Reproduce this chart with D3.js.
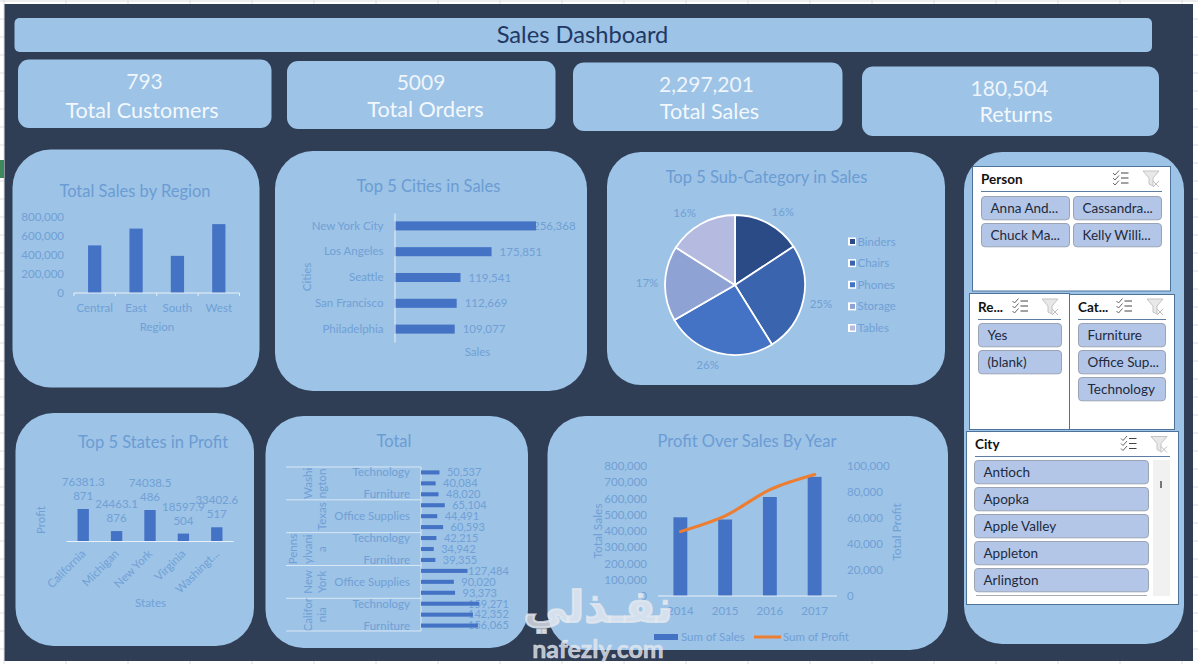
<!DOCTYPE html>
<html>
<head>
<meta charset="utf-8">
<script src="https://cdnjs.cloudflare.com/ajax/libs/d3/7.8.5/d3.min.js"></script>
<style>
    html, body { margin: 0; padding: 0; background: #fff; overflow: hidden; }
    svg { display: block; }
    text { font-family: Lato, "Open Sans", sans-serif; }
    .axis path, .axis line { stroke: #e8f0f9; }
    .axis text { fill: #70a0d6; font-size: 11.5px; }
    .muted { fill: #70a0d6; font-size: 11.5px; }
    .small { font-size: 11px; }
    .wide { font-size: 12px; }
    .title { fill: #6b9cd4; font-size: 16.5px; text-anchor: middle; }
</style>
</head>
<body>
<div id="dashboard"></div>
<script>
// chart values
const regions = ['Central', 'East', 'South', 'West'];
const regionSales = [501000, 678000, 391000, 725000];

const cities = ['New York City', 'Los Angeles', 'Seattle', 'San Francisco', 'Philadelphia'];
const citySales = [256368, 175851, 119541, 112669, 109077];

const subCategories = ['Binders', 'Chairs', 'Phones', 'Storage', 'Tables'];
const subCategorySales = [203413, 328449, 330007, 223844, 206966];

const states = ['California', 'Michigan', 'New York', 'Virginia', 'Washingt...'];
const stateProfit = [76381.3871, 24463.1876, 74038.5486, 18597.9504, 33402.6517];

const totalRows = ['Washington Technology', 'Washington Office Supplies', 'Washington Furniture',
    'Texas Technology', 'Texas Office Supplies', 'Texas Furniture',
    'Pennsylvania Technology', 'Pennsylvania Office Supplies', 'Pennsylvania Furniture',
    'New York Technology', 'New York Office Supplies', 'New York Furniture',
    'California Technology', 'California Office Supplies', 'California Furniture'];
const totalValues = [50537, 40084, 48020, 65104, 44491, 60593, 42215, 34942, 39355,
    127484, 90020, 93373, 159271, 142352, 156065];
const totalStateLines = [['Washi', 'ngton'], ['Texas'], ['Penns', 'ylvani', 'a'], ['New', 'York'], ['Califor', 'nia']];
const totalCategoryLabels = ['Technology', '', 'Furniture', '', 'Office Supplies', ''];

const years = ['2014', '2015', '2016', '2017'];
const yearSales = [484247, 470533, 609206, 733215];
const yearProfit = [49544, 61619, 81795, 93439];

const kpiValues = ['793', '5009', '2,297,201', '180,504'];
const kpiNames = ['Total Customers', 'Total Orders', 'Total Sales', 'Returns'];

const persons = ['Anna And...', 'Cassandra...', 'Chuck Ma...', 'Kelly Willi...'];
const returned = ['Yes', '(blank)'];
const categories = ['Furniture', 'Office Sup...', 'Technology'];
const cityNames = ['Antioch', 'Apopka', 'Apple Valley', 'Appleton', 'Arlington'];

const PANEL = '#9dc3e6';
const DARK = '#2f3d55';
const BAR = '#4472c4';
const pieColors = ['#2a4b86', '#3a64ae', '#4472c4', '#8fa2d4', '#b5bbe0'];

const svg = d3.select('#dashboard').append('svg')
    .attr('width', 1198)
    .attr('height', 664);

function rect(parent, x0, y0, x1, y1, r, fill) {
    return parent.append('rect')
        .attr('x', x0).attr('y', y0)
        .attr('width', x1 - x0).attr('height', y1 - y0)
        .attr('rx', r).attr('ry', r)
        .attr('fill', fill);
}

function label(parent, x, y, str, cls, anchor) {
    return parent.append('text')
        .attr('class', cls || 'muted')
        .attr('x', x).attr('y', y)
        .attr('dy', '0.35em')
        .attr('text-anchor', anchor || 'middle')
        .text(str);
}

function rotatedLabel(parent, x, y, str, cls) {
    return parent.append('text')
        .attr('class', cls || 'muted')
        .attr('transform', `translate(${x},${y}) rotate(-90)`)
        .attr('dy', '0.35em')
        .attr('text-anchor', 'middle')
        .text(str);
}

function drawBackground() {
    // worksheet grid showing around the dashboard
    d3.range(0, 664, 18).forEach(y => {
        svg.append('line').attr('x1', 0).attr('x2', 1198).attr('y1', y + 1).attr('y2', y + 1)
            .attr('stroke', '#dcdcdc');
    });
    d3.range(4, 1198, 62).forEach(x => {
        svg.append('line').attr('x1', x).attr('x2', x).attr('y1', 0).attr('y2', 664)
            .attr('stroke', '#dcdcdc');
    });
    rect(svg, 0, 160, 4, 178, 0, '#3d8a5f');
    rect(svg, 4.5, 4, 1193, 661, 0, DARK);

    rect(svg, 14.5, 18, 1152, 52, 5, PANEL);
    svg.append('text')
        .attr('x', 582.5).attr('y', 35).attr('dy', '0.35em')
        .attr('text-anchor', 'middle')
        .style('font-size', '23.7px')
        .style('fill', '#1f3864')
        .text('Sales Dashboard');

    rect(svg, 12.5, 149.5, 259.5, 387.5, 38, PANEL);
    rect(svg, 275, 151, 587, 391, 38, PANEL);
    rect(svg, 607, 152, 945, 385, 34, PANEL);
    rect(svg, 15.5, 413, 254, 646, 38, PANEL);
    rect(svg, 265.5, 416, 528, 648, 38, PANEL);
    rect(svg, 547.5, 416, 948, 650, 38, PANEL);
    rect(svg, 964, 152, 1184, 644, 38, PANEL);
}

function drawKpis() {
    const cards = [[18, 59.5, 271.5, 128], [287, 61, 555.5, 129], [573, 62.5, 842.5, 131], [862, 66.5, 1159, 136]];
    const valuePos = [[144.5, 82], [421, 83], [706.5, 85], [1009.5, 89]];
    const namePos = [[142, 110], [425.5, 109], [709.5, 111], [1016, 114]];
    cards.forEach((c, i) => {
        rect(svg, c[0], c[1], c[2], c[3], 11, PANEL);
        svg.append('text')
            .attr('x', valuePos[i][0]).attr('y', valuePos[i][1]).attr('dy', '0.35em')
            .attr('text-anchor', 'middle')
            .style('font-size', '21px').style('fill', '#eef5fc')
            .text(kpiValues[i]);
        svg.append('text')
            .attr('x', namePos[i][0]).attr('y', namePos[i][1]).attr('dy', '0.35em')
            .attr('text-anchor', 'middle')
            .style('font-size', '21.6px').style('fill', '#f3f8fd')
            .text(kpiNames[i]);
    });
}

function drawRegionChart() {
    const x = d3.scaleBand().domain(regions).range([74, 239.5]).paddingInner(0.68).paddingOuter(0.34);
    const y = d3.scaleLinear().domain([0, 800000]).range([293, 217]);
    const g = svg.append('g');

    label(g, 135, 191.5, 'Total Sales by Region', 'title');

    g.append('g').attr('class', 'axis')
        .attr('transform', 'translate(68,0)')
        .call(d3.axisLeft(y).ticks(4).tickSize(0).tickPadding(4).tickFormat(d3.format(',')))
        .call(a => a.select('.domain').remove());

    g.selectAll('rect.bar').data(regions).enter().append('rect')
        .attr('class', 'bar')
        .attr('x', d => x(d))
        .attr('width', x.bandwidth())
        .attr('y', (d, i) => y(regionSales[i]))
        .attr('height', (d, i) => 293 - y(regionSales[i]))
        .attr('fill', BAR);

    const axis = d3.scaleBand().domain(regions).range([74, 239.5]);
    g.append('path').attr('d', 'M74,293H239.5').attr('stroke', '#e8f0f9');
    d3.range(0, 5).forEach(i => {
        const tx = 74 + i * axis.step();
        g.append('line').attr('x1', tx).attr('x2', tx).attr('y1', 293).attr('y2', 296).attr('stroke', '#e8f0f9');
    });
    regions.forEach(r => label(g, axis(r) + axis.bandwidth() / 2, 308, r));
    label(g, 157, 327, 'Region');
}

function drawCitiesChart() {
    const y = d3.scaleBand().domain(cities).range([213, 342]).paddingInner(0.65).paddingOuter(0.325);
    const x = d3.scaleLinear().domain([0, 256368]).range([394.5, 536]);
    const g = svg.append('g');

    label(g, 428.5, 186.5, 'Top 5 Cities in Sales', 'title');

    // value labels go under the bars, the longest one runs into its bar
    g.selectAll('text.value').data(cities).enter().append('text')
        .attr('class', 'value muted')
        .attr('x', (d, i) => Math.min(x(citySales[i]) + 8, 533))
        .attr('y', d => y(d) + y.bandwidth() / 2)
        .attr('dy', '0.35em')
        .text((d, i) => d3.format(',')(citySales[i]));

    g.selectAll('rect.bar').data(cities).enter().append('rect')
        .attr('class', 'bar')
        .attr('x', x(0))
        .attr('y', d => y(d))
        .attr('width', (d, i) => x(citySales[i]) - x(0))
        .attr('height', y.bandwidth())
        .attr('fill', BAR);

    g.append('g').attr('class', 'axis')
        .attr('transform', 'translate(394.5,0)')
        .call(d3.axisLeft(y).tickSize(0).tickPadding(11));

    rotatedLabel(g, 307, 277, 'Cities');
    label(g, 477.5, 352, 'Sales');
}

function drawPieChart() {
    const cx = 735, cy = 285, radius = 70;
    const pie = d3.pie().value(d => d).sort(null);
    const arc = d3.arc().innerRadius(0).outerRadius(radius);
    const labelArc = d3.arc().innerRadius(88).outerRadius(88);
    // Excel nudges the outside labels a little off the slice middle
    const nudge = [[6, 4], [0, 0], [-6, -5], [0, 0], [-8, 5]];
    const total = d3.sum(subCategorySales);
    const g = svg.append('g');

    label(g, 766.5, 177, 'Top 5 Sub-Category in Sales', 'title');

    const slices = g.append('g').attr('transform', `translate(${cx},${cy})`);
    slices.selectAll('path').data(pie(subCategorySales)).enter().append('path')
        .attr('d', arc)
        .attr('fill', (d, i) => pieColors[i])
        .attr('stroke', 'white')
        .style('stroke-width', 1.8);

    slices.selectAll('text').data(pie(subCategorySales)).enter().append('text')
        .attr('class', 'muted')
        .attr('transform', (d, i) => {
            const pos = labelArc.centroid(d);
            return `translate(${pos[0] + nudge[i][0]},${pos[1] + nudge[i][1]})`;
        })
        .attr('dy', '0.35em')
        .attr('text-anchor', 'middle')
        .text(d => d3.format('.0%')(d.value / total));

    const legendY = d3.scalePoint().domain(subCategories).range([241.5, 328]);
    subCategories.forEach((name, i) => {
        const ly = legendY(name);
        rect(g, 848, ly - 4, 856, ly + 4, 0, 'white');
        rect(g, 850, ly - 2.5, 855, ly + 2.5, 0, pieColors[i]);
        label(g, 857.5, ly, name, 'muted', 'start');
    });
}

function drawStatesChart() {
    const x = d3.scaleBand().domain(states).range([66.5, 233.5]).paddingInner(0.66).paddingOuter(0.33);
    const y = d3.scaleLinear().domain([0, 76381.3871]).range([541.5, 509]);
    const g = svg.append('g');

    label(g, 153, 442, 'Top 5 States in Profit', 'title');

    g.selectAll('rect.bar').data(states).enter().append('rect')
        .attr('class', 'bar')
        .attr('x', d => x(d))
        .attr('width', x.bandwidth())
        .attr('y', (d, i) => y(stateProfit[i]))
        .attr('height', (d, i) => y(0) - y(stateProfit[i]))
        .attr('fill', BAR);

    g.append('path').attr('d', `M66.5,${y(0)}H233.5`).attr('stroke', '#e8f0f9');

    states.forEach((s, i) => {
        const cx = x(s) + x.bandwidth() / 2;
        const top = y(stateProfit[i]);
        const text = String(stateProfit[i]);
        // the value wraps after seven characters like the Excel label does
        label(g, cx, top - 27, text.slice(0, 7));
        label(g, cx, top - 13, text.slice(7));
        g.append('text')
            .attr('class', 'muted')
            .attr('transform', `translate(${cx + 3},${y(0) + 13}) rotate(-45)`)
            .attr('text-anchor', 'end')
            .text(s);
    });

    rotatedLabel(g, 41, 520, 'Profit');
    label(g, 150.5, 603, 'States');
}

function drawTotalChart() {
    const y = d3.scaleBand().domain(totalRows).range([467, 631]).paddingInner(0.63).paddingOuter(0.31);
    const x = d3.scaleLinear().domain([0, 127484]).range([421, 467.5]);
    const g = svg.append('g');
    const rowH = y.step();
    const top = y.range()[0];

    label(g, 394, 441.5, 'Total', 'title');

    totalStateLines.forEach((lines, s) => {
        const lineY = top + s * 3 * rowH;
        g.append('line').attr('x1', 286).attr('x2', 421).attr('y1', lineY).attr('y2', lineY).attr('stroke', '#dbe8f5');
        lines.forEach((line, k) => {
            const lx = 322 - (lines.length - 1 - k) * 14.5;
            rotatedLabel(g, lx, lineY + 1.5 * rowH, line);
        });
        totalCategoryLabels.slice((s % 2) * 3, (s % 2) * 3 + 3).forEach((c, k) => {
            if (c) label(g, 410, lineY + (k + 0.5) * rowH, c, 'muted', 'end');
        });
    });
    g.append('line').attr('x1', 286).attr('x2', 421).attr('y1', 631).attr('y2', 631).attr('stroke', '#dbe8f5');
    g.append('line').attr('x1', 421).attr('x2', 421).attr('y1', 467).attr('y2', 631).attr('stroke', '#dbe8f5');

    g.selectAll('text.value').data(totalRows).enter().append('text')
        .attr('class', 'value muted small')
        .attr('x', (d, i) => Math.min(x(totalValues[i]) + 7.5, 468))
        .attr('y', d => y(d) + y.bandwidth() / 2)
        .attr('dy', '0.35em')
        .text((d, i) => d3.format(',')(totalValues[i]));

    g.selectAll('rect.bar').data(totalRows).enter().append('rect')
        .attr('class', 'bar')
        .attr('x', x(0))
        .attr('y', d => y(d))
        .attr('width', (d, i) => x(totalValues[i]) - x(0))
        .attr('height', y.bandwidth())
        .attr('fill', BAR);
}

function drawProfitChart() {
    const x = d3.scaleBand().domain(years).range([658, 837]).paddingInner(0.69).paddingOuter(0.345);
    const ySales = d3.scaleLinear().domain([0, 800000]).range([596, 466]);
    const yProfit = d3.scaleLinear().domain([0, 100000]).range([596, 466]);
    const g = svg.append('g');

    label(g, 747, 441, 'Profit Over Sales By Year', 'title');

    g.append('g').attr('class', 'axis')
        .attr('transform', 'translate(651,0)')
        .call(d3.axisLeft(ySales).ticks(8).tickSize(0).tickPadding(4).tickFormat(d3.format(',')))
        .call(a => a.select('.domain').remove());

    g.append('g').attr('class', 'axis')
        .attr('transform', 'translate(842,0)')
        .call(d3.axisRight(yProfit).ticks(5).tickSize(0).tickPadding(5).tickFormat(d3.format(',')))
        .call(a => a.select('.domain').remove());

    g.selectAll('rect.bar').data(years).enter().append('rect')
        .attr('class', 'bar')
        .attr('x', d => x(d))
        .attr('width', x.bandwidth())
        .attr('y', (d, i) => ySales(yearSales[i]))
        .attr('height', (d, i) => 596 - ySales(yearSales[i]))
        .attr('fill', BAR);

    g.append('path').attr('d', 'M658,596H837').attr('stroke', '#e8f0f9');
    years.forEach(yr => label(g, x(yr) + x.bandwidth() / 2, 611, yr));

    const line = d3.line()
        .x((d, i) => x(years[i]) + x.bandwidth() / 2)
        .y(d => yProfit(d))
        .curve(d3.curveCatmullRom);
    g.append('path')
        .attr('d', line(yearProfit))
        .attr('fill', 'none')
        .attr('stroke', '#ed7d31')
        .attr('stroke-width', 3)
        .attr('stroke-linecap', 'round');

    rotatedLabel(g, 598, 531, 'Total Sales', 'muted wide');
    rotatedLabel(g, 897, 532, 'Total Profit', 'muted wide');

    rect(g, 654, 634, 678, 640, 0, BAR);
    label(g, 681, 637, 'Sum of Sales', 'muted', 'start');
    g.append('line').attr('x1', 754).attr('x2', 781).attr('y1', 637).attr('y2', 637)
        .attr('stroke', '#ed7d31').attr('stroke-width', 3);
    label(g, 783, 637, 'Sum of Profit', 'muted', 'start');
}

function drawSlicerIcons(g, checkX, filterX, top) {
    const icons = g.append('g').attr('fill', 'none').attr('stroke-width', 1);
    [0, 5, 10].forEach(dy => {
        icons.append('path')
            .attr('d', `M${checkX},${top + dy + 2}l2,2l4,-4.5`)
            .attr('stroke', '#666');
        icons.append('path')
            .attr('d', `M${checkX + 8},${top + dy + 2}h7.5`)
            .attr('stroke', '#444');
    });
    icons.append('path')
        .attr('d', `M${filterX},${top}h16l-6,7v8l-4,-2v-6z`)
        .attr('stroke', '#c4c4c4')
        .attr('fill', '#e8e8e8');
    icons.append('path')
        .attr('d', `M${filterX + 10},${top + 10}l6,6m0,-6l-6,6`)
        .attr('stroke', '#bdbdbd');
}

function drawButton(g, x0, y0, x1, str) {
    rect(g, x0, y0, x1, y0 + 23.3, 3.5, '#b4c6e7')
        .attr('stroke', '#9aa4b5');
    g.append('text')
        .attr('x', x0 + 9).attr('y', y0 + 11.7).attr('dy', '0.35em')
        .style('font-size', '13.5px')
        .style('fill', '#1c2a3e')
        .text(str);
}

function drawSlicer(box, name, lineX, lineY, checkX, filterX, iconTop) {
    const g = svg.append('g');
    rect(g, box[0], box[1], box[2], box[3], 0, 'white').attr('stroke', '#4f7299');
    g.append('text')
        .attr('x', lineX[0]).attr('y', iconTop + 8).attr('dy', '0.35em')
        .style('font-size', '13.5px')
        .style('font-weight', 'bold')
        .style('fill', '#111')
        .text(name);
    g.append('line')
        .attr('x1', lineX[0]).attr('x2', lineX[1])
        .attr('y1', lineY).attr('y2', lineY)
        .attr('stroke', '#5d7ea3');
    drawSlicerIcons(g, checkX, filterX, iconTop);
    return g;
}

function drawSlicers() {
    const person = drawSlicer([972.5, 166.5, 1170.5, 291], 'Person', [981, 1162], 191.5, 1113, 1143, 171);
    persons.forEach((p, i) => {
        const col = i % 2, row = Math.floor(i / 2);
        drawButton(person, col ? 1073.5 : 981.5, 196.5 + row * 27, col ? 1161.5 : 1069.5, p);
    });

    const ret = drawSlicer([969.5, 293.5, 1069.5, 429.5], 'Re...', [978, 1061], 319.5, 1012.5, 1042, 299);
    returned.forEach((r, i) => drawButton(ret, 978.5, 323.5 + i * 27, 1061.5, r));

    const cat = drawSlicer([1069.5, 294.5, 1174.5, 429.5], 'Cat...', [1078, 1166], 319.5, 1116.5, 1147, 299);
    categories.forEach((c, i) => drawButton(cat, 1078.5, 323.5 + i * 27, 1165.5, c));

    const city = drawSlicer([966.5, 431.5, 1178.5, 604.5], 'City', [975, 1170], 456.5, 1121, 1151, 436.5);
    cityNames.forEach((c, i) => drawButton(city, 974.5, 460.5 + i * 27, 1148.5, c));
    city.append('line').attr('x1', 976).attr('x2', 1147).attr('y1', 595.5).attr('y2', 595.5).attr('stroke', '#a8acb3');
    rect(city, 1153, 460, 1170, 596, 0, '#f1f1f1');
    rect(city, 1160, 481, 1162, 488, 0, '#777');
}

function drawWatermark() {
    const g = svg.append('g')
        .style('fill', 'rgba(228,233,240,0.8)')
        .style('stroke', 'rgba(228,233,240,0.8)');
    g.append('text')
        .attr('x', 598).attr('y', 622)
        .attr('text-anchor', 'middle')
        .style('font-family', '"DejaVu Sans", "Noto Sans", sans-serif')
        .style('font-size', '44px')
        .style('font-weight', 'bold')
        .style('stroke-width', 2)
        .text('نفـذلي');
    g.append('text')
        .attr('x', 598).attr('y', 658)
        .attr('text-anchor', 'middle')
        .style('font-size', '25px')
        .style('font-weight', 'bold')
        .style('stroke-width', 0.5)
        .text('nafezly.com');
}

drawBackground();
drawKpis();
drawRegionChart();
drawCitiesChart();
drawPieChart();
drawStatesChart();
drawTotalChart();
drawProfitChart();
drawSlicers();
drawWatermark();
</script>
</body>
</html>
